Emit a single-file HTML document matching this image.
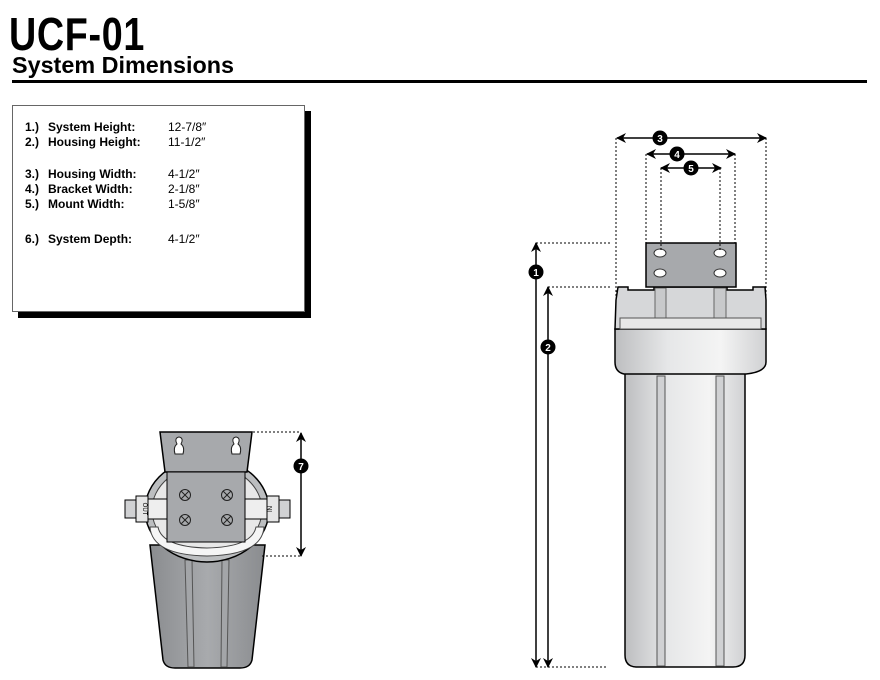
<!DOCTYPE html>
<html><head><meta charset="utf-8"><style>
html,body{margin:0;padding:0;background:#fff;}
svg{display:block;}
text{font-family:"Liberation Sans",sans-serif;}
</style></head><body>
<svg width="880" height="680" viewBox="0 0 880 680" xmlns="http://www.w3.org/2000/svg">
<defs>
<linearGradient id="bg" x1="0" x2="1">
<stop offset="0" stop-color="#bdbec0"/><stop offset="0.35" stop-color="#e6e7e8"/><stop offset="0.7" stop-color="#f4f4f4"/><stop offset="1" stop-color="#d0d1d3"/>
</linearGradient>
<linearGradient id="lg" x1="0" x2="1">
<stop offset="0" stop-color="#8a8c8f"/><stop offset="0.5" stop-color="#a8aaad"/><stop offset="1" stop-color="#8a8c8f"/>
</linearGradient>
<marker id="ah" markerWidth="10" markerHeight="10" refX="9" refY="5" orient="auto-start-reverse" markerUnits="userSpaceOnUse"><path d="M0,0 L10,5 L0,10 L3,5 Z" fill="#000"/></marker>
</defs>
<text x="11" y="50" font-size="46" font-weight="bold" transform="scale(0.82,1)" style="font-family:'Liberation Sans Narrow','Liberation Sans',sans-serif" textLength="165">UCF-01</text>
<text x="12" y="73" font-size="23" font-weight="bold" textLength="222" lengthAdjust="spacingAndGlyphs">System Dimensions</text>
<rect x="12" y="80" width="855" height="3" fill="#000"/>
<rect x="18" y="111" width="293" height="207" fill="#000"/>
<rect x="12.5" y="105.5" width="292" height="206" fill="#fff" stroke="#666"/>
<g font-size="12" font-weight="bold">
<text x="25" y="131">1.)</text><text x="48" y="131">System Height:</text>
<text x="25" y="146">2.)</text><text x="48" y="146">Housing Height:</text>
<text x="25" y="178">3.)</text><text x="48" y="178">Housing Width:</text>
<text x="25" y="193">4.)</text><text x="48" y="193">Bracket Width:</text>
<text x="25" y="208">5.)</text><text x="48" y="208">Mount Width:</text>
<text x="25" y="243">6.)</text><text x="48" y="243">System Depth:</text>
</g>
<g font-size="12">
<text x="168" y="131">12-7/8″</text>
<text x="168" y="146">11-1/2″</text>
<text x="168" y="178">4-1/2″</text>
<text x="168" y="193">2-1/8″</text>
<text x="168" y="208">1-5/8″</text>
<text x="168" y="243">4-1/2″</text>
</g>

<path d="M625,372 L625,655 Q625,667 637,667 L733,667 Q745,667 745,655 L745,372 Z" fill="url(#bg)" stroke="#000" stroke-width="1.5"/>
<g stroke="#555" stroke-width="1" fill="#d0d1d3">
<rect x="657" y="376" width="8" height="290"/>
<rect x="716" y="376" width="8" height="290"/>
</g>
<path d="M615,329 L766,329 L766,362 Q766,372 746,374 L624,374 Q615,372 615,362 Z" fill="url(#bg)" stroke="#000" stroke-width="1.5"/>
<path d="M616,300 L618,287 L628,287 L628,290 L654,290 L654,287 L727,287 L727,290 L753,290 L753,287 L765,287 L766,300 L766,329 L615,329 Z" fill="#d6d7d9" stroke="#000" stroke-width="1.5"/>
<g stroke="#666" fill="#c8c9cb">
<rect x="655" y="288" width="11" height="30"/>
<rect x="714" y="288" width="12" height="30"/>
</g>
<rect x="620" y="318" width="141" height="11" fill="#e8e8e8" stroke="#555"/>
<rect x="646" y="243" width="90" height="44" fill="#a7a9ac" stroke="#000" stroke-width="1.5"/>
<g fill="#fff" stroke="#333">
<ellipse cx="660" cy="253" rx="6" ry="4"/><ellipse cx="720" cy="253" rx="6" ry="4"/>
<ellipse cx="660" cy="273" rx="6" ry="4"/><ellipse cx="720" cy="273" rx="6" ry="4"/>
</g>
<g stroke="#000" stroke-width="1" stroke-dasharray="2,2" fill="none">
<path d="M616,138 V300 M766,138 V300 M646,154 V243 M735,154 V243 M661,168 V250 M720,168 V250"/>
<path d="M536,243 H610 M548,287 H610 M536,667 H607"/>
</g>
<g stroke="#000" stroke-width="1.5" marker-start="url(#ah)" marker-end="url(#ah)">
<line x1="766" y1="138" x2="617" y2="138"/>
<line x1="735" y1="154" x2="647" y2="154"/>
<line x1="721" y1="168" x2="661" y2="168"/>
<line x1="536" y1="667" x2="536" y2="243"/>
<line x1="548" y1="667" x2="548" y2="287"/>
</g>
<g font-size="10" font-weight="bold" text-anchor="middle">
<circle cx="660" cy="138" r="7.5"/><text x="660" y="142" fill="#fff">3</text>
<circle cx="677" cy="154" r="7.5"/><text x="677" y="158" fill="#fff">4</text>
<circle cx="691" cy="168" r="7.5"/><text x="691" y="172" fill="#fff">5</text>
<circle cx="536" cy="272" r="7.5"/><text x="536" y="276" fill="#fff">1</text>
<circle cx="548" cy="347" r="7.5"/><text x="548" y="351" fill="#fff">2</text>
</g>

<path d="M150,545 L163,660 Q165,668 175,668 L240,668 Q250,668 252,660 L265,545 Z" fill="url(#lg)" stroke="#000" stroke-width="1.5"/>
<g stroke="#555" fill="#a3a5a8"><path d="M185,560 L188,667 L194,667 L192,560 Z M222,560 L221,667 L227,667 L229,560 Z"/></g>
<ellipse cx="207" cy="510" rx="62" ry="52" fill="#bcbec0" stroke="#000" stroke-width="1.5"/>
<ellipse cx="207" cy="510" rx="55" ry="45" fill="#e8e8e8" stroke="#444"/>
<path d="M150,527 Q152,555 207,556 Q262,555 264,527 L256,527 Q252,547 207,548 Q162,547 158,527 Z" fill="#f5f5f5" stroke="#444"/>
<g stroke="#000" fill="#d0d1d3">
<rect x="125" y="500" width="12" height="18"/>
<rect x="136" y="496" width="12" height="26" fill="#e6e6e6"/>
<rect x="148" y="499" width="20" height="20" fill="#eee"/>
<rect x="278" y="500" width="12" height="18"/>
<rect x="267" y="496" width="12" height="26" fill="#e6e6e6"/>
<rect x="245" y="499" width="22" height="20" fill="#eee"/>
</g>
<text transform="translate(143,509) rotate(90)" font-size="6" text-anchor="middle">OUT</text>
<text transform="translate(272,509) rotate(-90)" font-size="6" text-anchor="middle">IN</text>
<path d="M160,432 L252,432 L247,472 L165,472 Z" fill="#a7a9ac" stroke="#000" stroke-width="1.5"/>
<rect x="167" y="472" width="78" height="70" fill="#a7a9ac" stroke="#000" stroke-width="1"/>
<g fill="#fff" stroke="#222">
<path d="M175,454 Q173,447 177,444 Q174,438 179,437 Q184,438 181,444 Q185,447 183,454 Z"/>
<path d="M232,454 Q230,447 234,444 Q231,438 236,437 Q241,438 238,444 Q242,447 240,454 Z"/>
</g>
<g stroke="#222" fill="none">
<circle cx="185" cy="495" r="5.5"/><path d="M181,491 l8,8 M189,491 l-8,8"/>
<circle cx="227" cy="495" r="5.5"/><path d="M223,491 l8,8 M231,491 l-8,8"/>
<circle cx="185" cy="520" r="5.5"/><path d="M181,516 l8,8 M189,516 l-8,8"/>
<circle cx="227" cy="520" r="5.5"/><path d="M223,516 l8,8 M231,516 l-8,8"/>
</g>
<g stroke="#000" stroke-dasharray="2,2"><path d="M253,432 H301 M262,556 H301"/></g>
<line x1="301" y1="556" x2="301" y2="433" stroke="#000" stroke-width="1.5" marker-start="url(#ah)" marker-end="url(#ah)"/>
<circle cx="301" cy="466" r="7.5"/><text x="301" y="470" fill="#fff" font-size="10" font-weight="bold" text-anchor="middle">7</text>
</svg>
</body></html>
